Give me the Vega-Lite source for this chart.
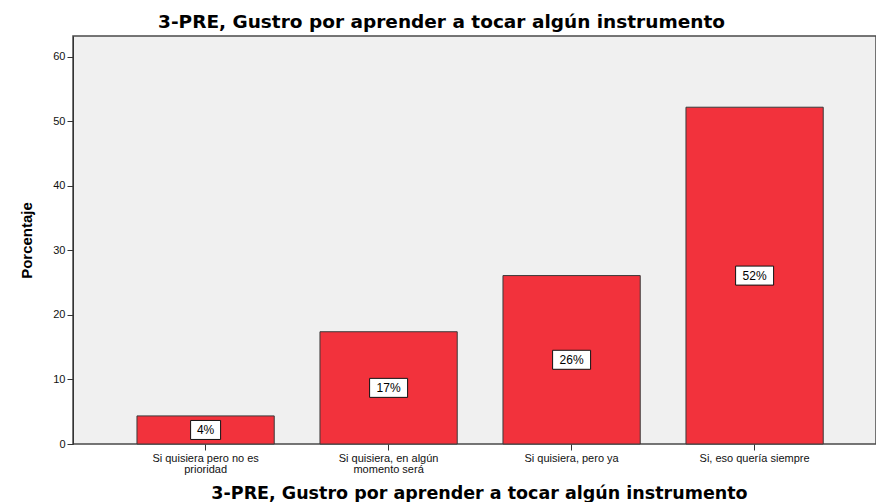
{
  "$schema": "https://vega.github.io/schema/vega-lite/v6.json",
  "autosize": "none",
  "width": 803,
  "height": 408,
  "padding": {"left": 73, "top": 36, "right": 0, "bottom": 58},
  "background": "white",
  "title": {
    "text": "3-PRE, Gustro por aprender a tocar algún instrumento",
    "font": "DejaVu Sans",
    "fontSize": 18.5,
    "fontWeight": "bold",
    "color": "#000000",
    "anchor": "middle",
    "baseline": "bottom",
    "offset": 5,
    "dx": -33,
    "dy": 19
  },
  "config": {
    "view": {"fill": "#F0F0F0", "stroke": "#4a4a4a", "strokeWidth": 1.5},
    "axis": {"labelFont": "Liberation Sans", "labelFontSize": 11, "labelColor": "#111111", "tickColor": "#333333", "domainColor": "#333333", "grid": false}
  },
  "data": {
    "values": [
      {"categoria": "Si quisiera pero no es prioridad", "porcentaje": 4.35},
      {"categoria": "Si quisiera, en algún momento será", "porcentaje": 17.39},
      {"categoria": "Si quisiera, pero ya", "porcentaje": 26.09},
      {"categoria": "Si, eso quería siempre", "porcentaje": 52.17}
    ]
  },
  "transform": [
    {"calculate": "format(datum.porcentaje, '.0f') + '%'", "as": "etiqueta"},
    {"calculate": "datum.porcentaje / 2", "as": "medio"}
  ],
  "encoding": {
    "x": {
      "field": "categoria",
      "type": "nominal",
      "sort": null,
      "scale": {"paddingInner": 0.25, "paddingOuter": 0.319, "align": 0.548},
      "axis": {
        "title": "3-PRE, Gustro por aprender a tocar algún instrumento",
        "titleFont": "DejaVu Sans",
        "titleFontSize": 17.5,
        "titleFontWeight": "bold",
        "titleColor": "#000000",
        "titleBaseline": "alphabetic",
        "titleY": 54,
        "titleX": 406,
        "labelAngle": 0,
        "labelPadding": 2,
        "labelFontSize": 11,
        "labelLineHeight": 11,
        "labelBaseline": "top",
        "tickSize": 6,
        "domain": false,
        "labelExpr": "datum.value == 'Si quisiera pero no es prioridad' ? ['Si quisiera pero no es', 'prioridad'] : datum.value == 'Si quisiera, en algún momento será' ? ['Si quisiera, en algún', 'momento será'] : datum.value"
      }
    }
  },
  "layer": [
    {
      "mark": {"type": "bar", "fill": "#F2323C", "stroke": "#3a3a3a", "strokeWidth": 1},
      "encoding": {
        "y": {
          "field": "porcentaje",
          "type": "quantitative",
          "scale": {"domain": [0, 63.2], "nice": false},
          "axis": {
            "title": "Porcentaje",
            "titleFont": "Liberation Sans",
            "titleFontSize": 15,
            "titleFontWeight": "bold",
            "titleColor": "#000000",
            "titlePadding": 18,
            "values": [0, 10, 20, 30, 40, 50, 60],
            "tickSize": 6,
            "labelPadding": 2
          }
        }
      }
    },
    {
      "mark": {"type": "point", "filled": true, "fill": "white", "stroke": "#111111", "strokeWidth": 1, "opacity": 1},
      "encoding": {
        "y": {"field": "medio", "type": "quantitative"},
        "shape": {
          "condition": {"test": "length(datum.etiqueta) < 3", "value": "M-1,-0.633H1V0.633H-1Z"},
          "value": "M-1,-0.5H1V0.5H-1Z"
        },
        "size": {
          "condition": {"test": "length(datum.etiqueta) < 3", "value": 900},
          "value": 1444
        }
      }
    },
    {
      "mark": {"type": "text", "font": "Liberation Sans", "fontSize": 12, "color": "#000000", "baseline": "middle", "align": "center"},
      "encoding": {
        "y": {"field": "medio", "type": "quantitative"},
        "text": {"field": "etiqueta", "type": "nominal"}
      }
    }
  ]
}
